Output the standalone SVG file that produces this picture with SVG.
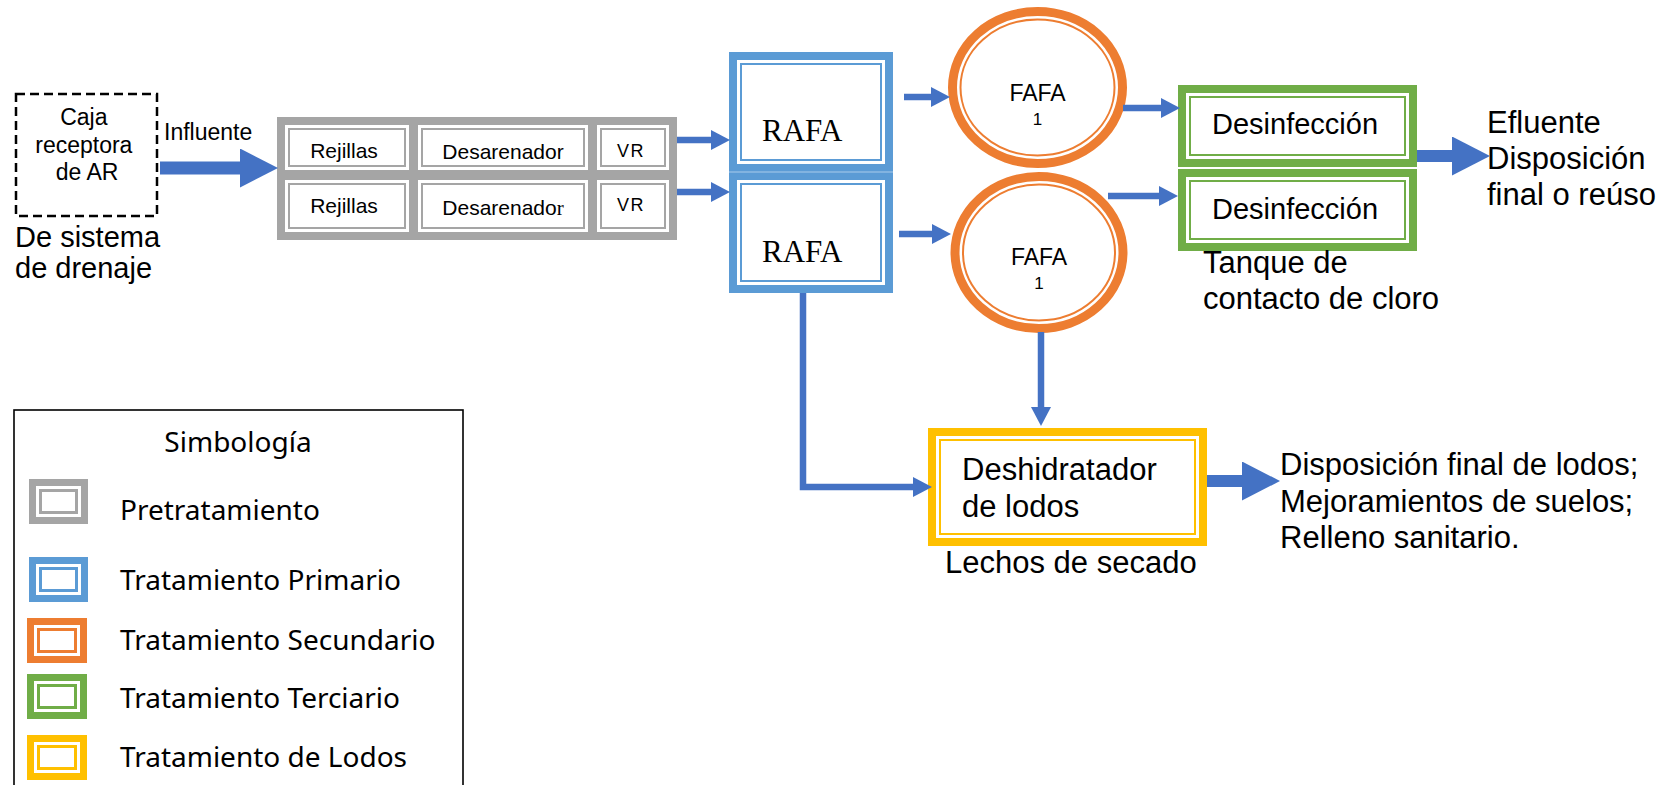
<svg xmlns="http://www.w3.org/2000/svg" width="1667" height="785" viewBox="0 0 1667 785">
  <style>
    .sans { font-family: "Liberation Sans", Arial, sans-serif; fill: #000; }
    .serif { font-family: "Liberation Serif", "Times New Roman", serif; fill: #000; }
    .legend { font-family: "Noto Sans", "Open Sans", sans-serif; fill: #000; font-size: 28px; }
    .pre-o { fill: #fff; stroke: #A5A5A5; stroke-width: 8; }
    .pre-i { fill: none; stroke: #A5A5A5; stroke-width: 2; }
    .pri-o { fill: #fff; stroke: #5B9BD5; stroke-width: 8; }
    .pri-i { fill: none; stroke: #5B9BD5; stroke-width: 2; }
    .sec-o { fill: #fff; stroke: #ED7D31; stroke-width: 9; }
    .sec-i { fill: none; stroke: #ED7D31; stroke-width: 2; }
    .ter-o { fill: #fff; stroke: #70AD47; stroke-width: 8; }
    .ter-i { fill: none; stroke: #70AD47; stroke-width: 2; }
    .lod-o { fill: #fff; stroke: #FFC000; stroke-width: 8; }
    .lod-i { fill: none; stroke: #FFC000; stroke-width: 2; }
    .flow { fill: none; stroke: #4472C4; stroke-width: 6.5; }
    .flow-big { fill: none; stroke: #4472C4; }
    .icon-gap { fill: #fff; }
  </style>
  <defs>
    <marker id="head" markerUnits="userSpaceOnUse" markerWidth="19" markerHeight="20" refX="0" refY="10" orient="auto">
      <path d="M0,0 L19,10 L0,20 z" fill="#4472C4"/>
    </marker>
    <marker id="head-big" markerUnits="userSpaceOnUse" markerWidth="38" markerHeight="39" refX="0" refY="19.5" orient="auto">
      <path d="M0,0 L38,19.5 L0,39 z" fill="#4472C4"/>
    </marker>
  </defs>

  <rect width="1667" height="785" fill="#fff"/>

  <!-- Source box -->
  <g id="caja">
    <rect x="16" y="94" width="141" height="122" fill="none" stroke="#000" stroke-width="2.5" stroke-dasharray="9 5"/>
    <text class="sans" font-size="23" text-anchor="middle">
      <tspan x="87" y="125">Caja</tspan>
      <tspan x="87" y="153">receptora</tspan>
      <tspan x="87" y="180">de AR</tspan>
    </text>
    <text class="sans" font-size="29">
      <tspan x="15" y="247">De sistema</tspan>
      <tspan x="15" y="278">de drenaje</tspan>
    </text>
  </g>

  <text id="influente-label" class="sans" font-size="23" x="164" y="140">Influente</text>

  <!-- Pretreatment: two trains of screens, grit chamber and VR -->
  <g id="pretratamiento">
    <rect class="pre-o" x="281" y="121" width="132" height="53"/>
    <rect class="pre-i" x="289" y="129" width="116" height="37"/>
    <rect class="pre-o" x="414" y="121" width="178" height="53"/>
    <rect class="pre-i" x="422" y="129" width="162" height="37"/>
    <rect class="pre-o" x="593" y="121" width="80" height="53"/>
    <rect class="pre-i" x="601" y="129" width="64" height="37"/>
    <rect class="pre-o" x="281" y="176" width="132" height="60"/>
    <rect class="pre-i" x="289" y="184" width="116" height="44"/>
    <rect class="pre-o" x="414" y="176" width="178" height="60"/>
    <rect class="pre-i" x="422" y="184" width="162" height="44"/>
    <rect class="pre-o" x="593" y="176" width="80" height="60"/>
    <rect class="pre-i" x="601" y="184" width="64" height="44"/>
    <text class="sans" font-size="21" text-anchor="middle" x="344" y="158">Rejillas</text>
    <text class="sans" font-size="21" text-anchor="middle" x="503" y="159">Desarenador</text>
    <text class="sans" font-size="18" text-anchor="middle" x="631" y="157" letter-spacing="1.5">VR</text>
    <text class="sans" font-size="21" text-anchor="middle" x="344" y="213">Rejillas</text>
    <text class="sans" font-size="21" text-anchor="middle" x="503" y="215">Desarenado<tspan class="serif" font-size="21">r</tspan></text>
    <text class="sans" font-size="18" text-anchor="middle" x="631" y="211" letter-spacing="1.5">VR</text>
  </g>

  <!-- Primary treatment: UASB reactors -->
  <g id="rafa-1">
    <rect class="pri-o" x="733" y="56" width="156" height="112"/>
    <rect class="pri-i" x="741" y="64" width="140" height="96"/>
    <text class="serif" font-size="31" x="762" y="141">RAFA</text>
  </g>
  <g id="rafa-2">
    <rect class="pri-o" x="733" y="176" width="156" height="113"/>
    <rect class="pri-i" x="741" y="184" width="140" height="97"/>
    <line x1="729" y1="172" x2="893" y2="172" stroke="#A9CBEB" stroke-width="1.2"/>
    <text class="serif" font-size="31" x="762" y="262">RAFA</text>
  </g>

  <!-- Secondary treatment: anaerobic filters -->
  <g id="fafa-1">
    <ellipse class="sec-o" cx="1037.5" cy="87.5" rx="85" ry="76"/>
    <ellipse class="sec-i" cx="1037.5" cy="87.5" rx="77" ry="68"/>
    <text class="sans" font-size="23" text-anchor="middle" x="1037.5" y="101">FAFA</text>
    <text class="sans" font-size="17" text-anchor="middle" x="1037.5" y="125">1</text>
  </g>
  <g id="fafa-2">
    <ellipse class="sec-o" cx="1039" cy="252.5" rx="84" ry="76"/>
    <ellipse class="sec-i" cx="1039" cy="252.5" rx="76" ry="68"/>
    <text class="sans" font-size="23" text-anchor="middle" x="1039" y="265">FAFA</text>
    <text class="sans" font-size="17" text-anchor="middle" x="1039" y="289">1</text>
  </g>

  <!-- Tertiary treatment: disinfection -->
  <g id="desinfeccion-1">
    <rect class="ter-o" x="1182" y="89" width="231" height="74"/>
    <rect class="ter-i" x="1190" y="97" width="215" height="58"/>
    <text class="sans" font-size="29" x="1212" y="134">Desinfección</text>
  </g>
  <g id="desinfeccion-2">
    <rect class="ter-o" x="1182" y="173" width="231" height="74"/>
    <rect class="ter-i" x="1190" y="181" width="215" height="58"/>
    <text class="sans" font-size="29" x="1212" y="219">Desinfección</text>
  </g>
  <text id="tanque-label" class="sans" font-size="31">
    <tspan x="1203" y="273">Tanque de</tspan>
    <tspan x="1203" y="309">contacto de cloro</tspan>
  </text>

  <text id="efluente-label" class="sans" font-size="31">
    <tspan x="1487" y="133">Efluente</tspan>
    <tspan x="1487" y="169">Disposición</tspan>
    <tspan x="1487" y="205">final o reúso</tspan>
  </text>

  <!-- Sludge treatment -->
  <g id="deshidratador">
    <rect class="lod-o" x="932" y="432" width="271" height="110"/>
    <rect class="lod-i" x="940" y="440" width="255" height="94"/>
    <text class="sans" font-size="31">
      <tspan x="962" y="480">Deshidratador</tspan>
      <tspan x="962" y="517">de lodos</tspan>
    </text>
  </g>
  <text id="lechos-label" class="sans" font-size="31" x="945" y="573">Lechos de secado</text>

  <text id="lodos-label" class="sans" font-size="31">
    <tspan x="1280" y="475">Disposición final de lodos;</tspan>
    <tspan x="1280" y="512">Mejoramientos de suelos;</tspan>
    <tspan x="1280" y="548">Relleno sanitario.</tspan>
  </text>

  <!-- Flow connectors -->
  <g id="connectors">
    <line class="flow-big" x1="160" y1="168" x2="240" y2="168" stroke-width="13" marker-end="url(#head-big)"/>
    <line class="flow" x1="677" y1="140" x2="711" y2="140" marker-end="url(#head)"/>
    <line class="flow" x1="677" y1="192" x2="711" y2="192" marker-end="url(#head)"/>
    <line class="flow" x1="904" y1="97" x2="931" y2="97" marker-end="url(#head)"/>
    <line class="flow" x1="899" y1="234" x2="932" y2="234" marker-end="url(#head)"/>
    <line class="flow" x1="1123" y1="108" x2="1161" y2="108" marker-end="url(#head)"/>
    <line class="flow" x1="1108" y1="196" x2="1159" y2="196" marker-end="url(#head)"/>
    <path class="flow" d="M803,293 V487 H913" marker-end="url(#head)"/>
    <line class="flow" x1="1041" y1="332" x2="1041" y2="407" marker-end="url(#head)"/>
    <line class="flow-big" x1="1417" y1="156" x2="1452" y2="156" stroke-width="12" marker-end="url(#head-big)"/>
    <line class="flow-big" x1="1207" y1="481" x2="1242" y2="481" stroke-width="12" marker-end="url(#head-big)"/>
  </g>

  <!-- Legend -->
  <g id="simbologia">
    <rect x="14" y="410" width="449" height="400" fill="none" stroke="#000" stroke-width="1.6"/>
    <text class="legend" text-anchor="middle" x="238" y="452">Simbología</text>

    <rect x="29" y="479" width="59" height="45" fill="#A5A5A5"/>
    <rect class="icon-gap" x="36" y="486" width="45" height="31"/>
    <rect x="40.5" y="490.5" width="36" height="22" fill="none" stroke="#A5A5A5" stroke-width="3"/>
    <text class="legend" x="120" y="520">Pretratamiento</text>

    <rect x="29" y="557" width="59" height="45" fill="#5B9BD5"/>
    <rect class="icon-gap" x="36" y="564" width="45" height="31"/>
    <rect x="40.5" y="568.5" width="36" height="22" fill="none" stroke="#5B9BD5" stroke-width="3"/>
    <text class="legend" x="120" y="590">Tratamiento Primario</text>

    <rect x="27" y="618" width="60" height="45" fill="#ED7D31"/>
    <rect class="icon-gap" x="34" y="625" width="46" height="31"/>
    <rect x="38.5" y="629.5" width="37" height="22" fill="none" stroke="#ED7D31" stroke-width="3"/>
    <text class="legend" x="120" y="650">Tratamiento Secundario</text>

    <rect x="27" y="674" width="60" height="45" fill="#70AD47"/>
    <rect class="icon-gap" x="34" y="681" width="46" height="31"/>
    <rect x="38.5" y="685.5" width="37" height="22" fill="none" stroke="#70AD47" stroke-width="3"/>
    <text class="legend" x="120" y="708">Tratamiento Terciario</text>

    <rect x="27" y="735" width="60" height="45" fill="#FFC000"/>
    <rect class="icon-gap" x="34" y="742" width="46" height="31"/>
    <rect x="38.5" y="746.5" width="37" height="22" fill="none" stroke="#FFC000" stroke-width="3"/>
    <text class="legend" x="120" y="767">Tratamiento de Lodos</text>
  </g>
</svg>
